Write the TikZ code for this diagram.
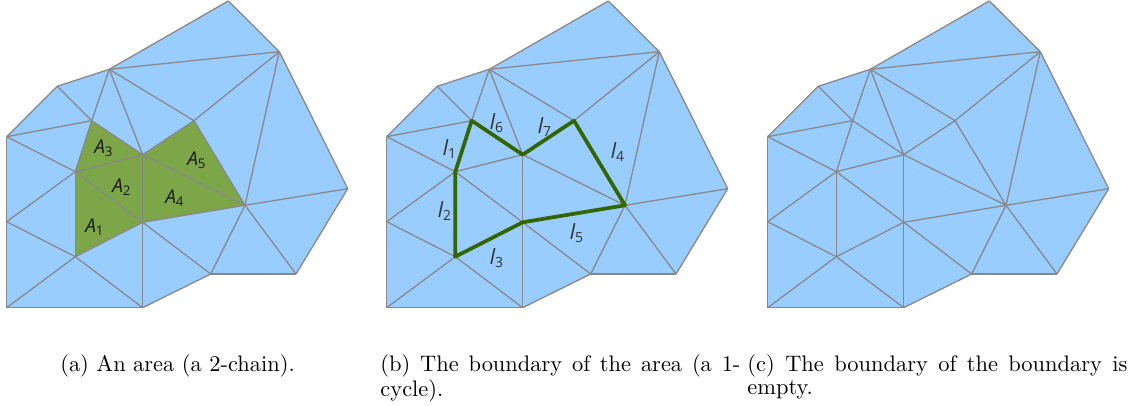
\documentclass[tikz,border=0pt]{standalone}
\usepackage{fontspec}
\newfontfamily\labelfont{Open Sans}
\usepackage{xcolor}
\usepackage{tikz}

\definecolor{meshblue}{HTML}{99CCFF}
\definecolor{areagreen}{HTML}{7DA648}
\definecolor{cyclegreen}{HTML}{336600}
\definecolor{edgegray}{HTML}{888888}

\begin{document}
\begin{tikzpicture}[x=0.43pt, y=-0.43pt,
    meshline/.style={draw=edgegray, line width=0.55pt, line join=round},
    bdline/.style={draw=cyclegreen, line width=1.6pt, line join=round},
    arealbl/.style={font=\labelfont\fontsize{8.2}{8.2}\selectfont\itshape, text=black!90, inner sep=0pt},
    edgelbl/.style={font=\labelfont\fontsize{9}{9}\selectfont\itshape, text=black!80, inner sep=0pt},
    capt/.style={font=\fontsize{9.65}{9.5}\selectfont, inner sep=0pt}]
  \useasboundingbox (0,0) rectangle (1128,406);

  % the same mesh three times
  \foreach \p/\dx in {a/0, b/380, c/761} {
    \begin{scope}[shift={(\dx,0)}]
      \foreach \n/\x/\y in {1/228.3/1, 2/279.3/51.7, 3/109.3/69.3, 4/57.3/86.3, 5/6.7/136.7,
          6/91.7/120.7, 7/194/120.7, 8/142.7/154.7, 9/75.3/171.7, 10/347.7/188.7,
          11/245/205.3, 12/6.7/221.7, 13/142.7/222.3, 14/75.3/256.7, 15/210.7/274,
          16/296/274, 17/6.7/307.7, 18/142.7/307.7} {
        \coordinate (\p\n) at (\x,\y);
      }
    \end{scope}
    \fill[meshblue] (\p1) -- (\p2) -- (\p10) -- (\p16) -- (\p15) -- (\p18) -- (\p17)
      -- (\p12) -- (\p5) -- (\p4) -- (\p3) -- cycle;
  }

  % the 2-chain
  \fill[areagreen] (a9) -- (a6) -- (a8) -- (a7) -- (a11) -- (a13) -- (a14) -- cycle;

  \foreach \p in {a,b,c} {
    \foreach \u/\v in {1/2, 2/10, 10/16, 16/15, 15/18, 18/17, 17/12, 12/5, 5/4, 4/3, 3/1,
        3/2, 3/6, 3/8, 3/7, 4/6, 5/6, 5/9, 6/9, 6/8, 2/7, 2/11, 7/8, 7/11, 8/9, 8/13,
        8/11, 9/12, 9/13, 9/14, 12/14, 13/14, 13/11, 13/18, 13/15, 14/17, 14/18,
        11/10, 11/15, 11/16} {
      \draw[meshline] (\p\u) -- (\p\v);
    }
  }

  % its boundary
  \draw[bdline] (b9) -- (b6) -- (b8) -- (b7) -- (b11) -- (b13) -- (b14) -- cycle;

  \foreach \i/\x/\y in {1/95/227, 2/122/187, 3/104/148, 4/175/198, 5/197/160} {
    \node[arealbl] (A\i) at (\x,\y) {A\textsubscript{\upshape\i}};
  }
  \foreach \i/\x/\y in {1/450/149, 2/445/211, 3/497/258, 4/618/152, 5/577/233, 6/497/123, 7/545/127} {
    \node[edgelbl] (l\i) at (\x,\y) {l\textsubscript{\upshape\i}};
  }

  \node[capt, anchor=base] (capa) at (177.5,372) {(a) An area (a 2-chain).};
  \node[capt, anchor=base west, text width=154.8pt, align=justify] (capb) at (380,372)
    {(b) The boundary of the area (a 1-\linebreak cycle).};
  \node[capt, anchor=base west, text width=163.4pt, align=justify] (capc) at (747,372)
    {(c) The boundary of the boundary is\linebreak empty.};
\end{tikzpicture}
\end{document}
